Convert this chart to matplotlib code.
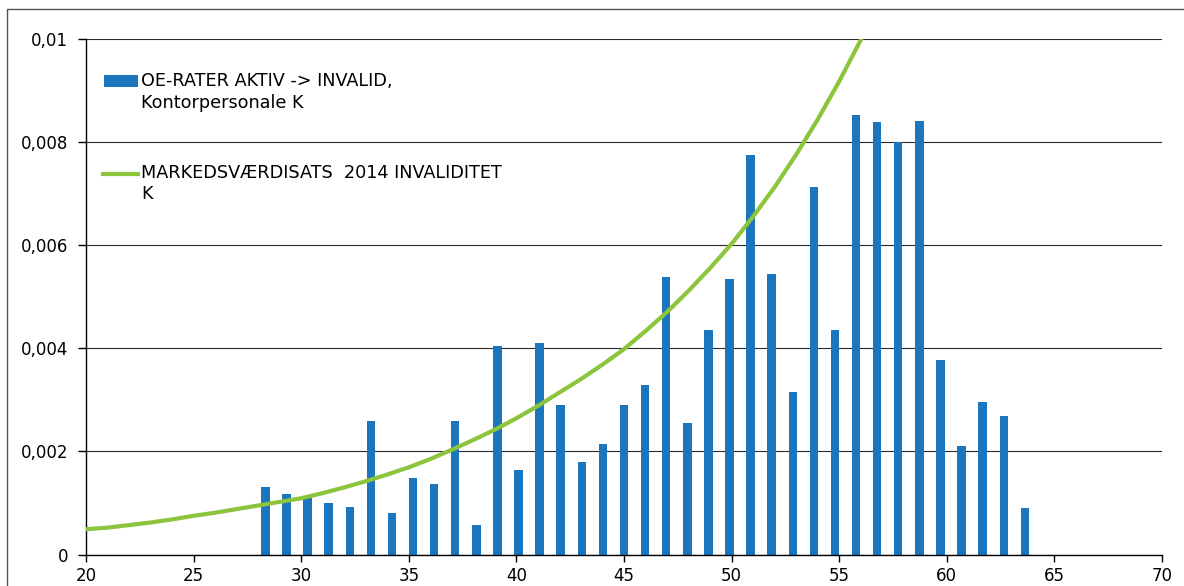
import matplotlib
matplotlib.use("Agg")
import matplotlib.pyplot as plt
from matplotlib.patches import Rectangle
from matplotlib.lines import Line2D
from matplotlib.ticker import FuncFormatter

plt.rcParams["font.family"] = ["DejaVu Sans"]

# bar series: observed rates per age (category axis 20..70)
bar_ages = list(range(28, 65))
bar_rates = [
    0.00130, 0.00117, 0.00110, 0.00100, 0.00093, 0.00258, 0.00080, 0.00148,
    0.00136, 0.00258, 0.00058, 0.00405, 0.00164, 0.00409, 0.00289, 0.00180,
    0.00214, 0.00289, 0.00329, 0.00537, 0.00254, 0.00435, 0.00534, 0.00774,
    0.00543, 0.00314, 0.00712, 0.00435, 0.00851, 0.00839, 0.00800, 0.00841,
    0.00377, 0.00210, 0.00296, 0.00268, 0.00091,
]

# line series: market value rate 2014 (value axis 20..70)
line_ages = list(range(20, 58))
line_rates = [
    0.00049, 0.00052, 0.00057, 0.00062, 0.00068, 0.00075, 0.00081, 0.00088,
    0.00095, 0.00102, 0.00109, 0.00119, 0.00130, 0.00142, 0.00155, 0.00169,
    0.00185, 0.00203, 0.00222, 0.00242, 0.00264, 0.00288, 0.00314, 0.00340,
    0.00368, 0.00398, 0.00433, 0.00470, 0.00511, 0.00555, 0.00602, 0.00655,
    0.00712, 0.00775, 0.00843, 0.00917, 0.00997, 0.01085,
]

categories = list(range(20, 71))
x_ticks = list(range(20, 71, 5))
y_ticks = [0, 0.002, 0.004, 0.006, 0.008, 0.01]

bar_label = "OE-RATER AKTIV -> INVALID,\nKontorpersonale K"
line_label = "MARKEDSVÆRDISATS  2014 INVALIDITET\nK"

BAR_COLOR = "#1c76bd"
LINE_COLOR = "#8cc43c"

W, H = 1184, 586
fig = plt.figure(figsize=(W / 100, H / 100), dpi=100)

left, right, bottom, top = 86, 1162, 554.5, 38.5
ax = fig.add_axes([left / W, 1 - bottom / H, (right - left) / W, (bottom - top) / H])

# outer chart frame
fig.add_artist(Rectangle((7 / W, -0.1), 1.2, 1.1 - 8.5 / H, transform=fig.transFigure,
                         fill=False, edgecolor="#555555", linewidth=1.0))

# bars on category axis
ax.bar(bar_ages, bar_rates, width=0.4, color=BAR_COLOR, zorder=2)
ax.set_xlim(categories[0] - 0.5, categories[-1] + 0.5)
ax.set_ylim(0, 0.01)
ax.set_xticks([])
ax.set_yticks(y_ticks)
ax.yaxis.set_major_formatter(FuncFormatter(
    lambda v, p: "0" if v == 0 else f"{v:g}".replace(".", ",")))
ax.yaxis.grid(True, color="#2a2a2a", linewidth=0.8)
ax.set_axisbelow(True)
ax.tick_params(axis="y", length=6, width=1, pad=7, labelsize=12)
for s in ["top", "right"]:
    ax.spines[s].set_visible(False)
ax.spines["left"].set_linewidth(1.0)
ax.spines["bottom"].set_linewidth(1.0)

# line on value axis
ax2 = ax.twiny()
ax2.plot(line_ages, line_rates, color=LINE_COLOR, linewidth=3, zorder=3)
ax2.set_xlim(x_ticks[0], x_ticks[-1])
ax2.set_xticks(x_ticks)
ax2.xaxis.set_ticks_position("bottom")
ax2.xaxis.set_label_position("bottom")
ax2.tick_params(axis="x", length=5, width=1, pad=4, labelsize=12)
for s in ax2.spines.values():
    s.set_visible(False)

# legend drawn inside plot area
ax2.add_patch(Rectangle((0.0167, 0.906), 0.0316, 0.023, transform=ax.transAxes,
                        facecolor=BAR_COLOR, edgecolor="none", clip_on=False))
ax2.text(0.0515, 0.936, bar_label, transform=ax.transAxes, fontsize=12.7,
         va="top", ha="left", linespacing=1.32)
ax2.add_artist(Line2D([0.0158, 0.0483], [0.738, 0.738], transform=ax.transAxes,
                      color=LINE_COLOR, linewidth=3))
ax2.text(0.0515, 0.757, line_label, transform=ax.transAxes, fontsize=12.7,
         va="top", ha="left", linespacing=1.25)

fig.savefig("out.png", dpi=100)
